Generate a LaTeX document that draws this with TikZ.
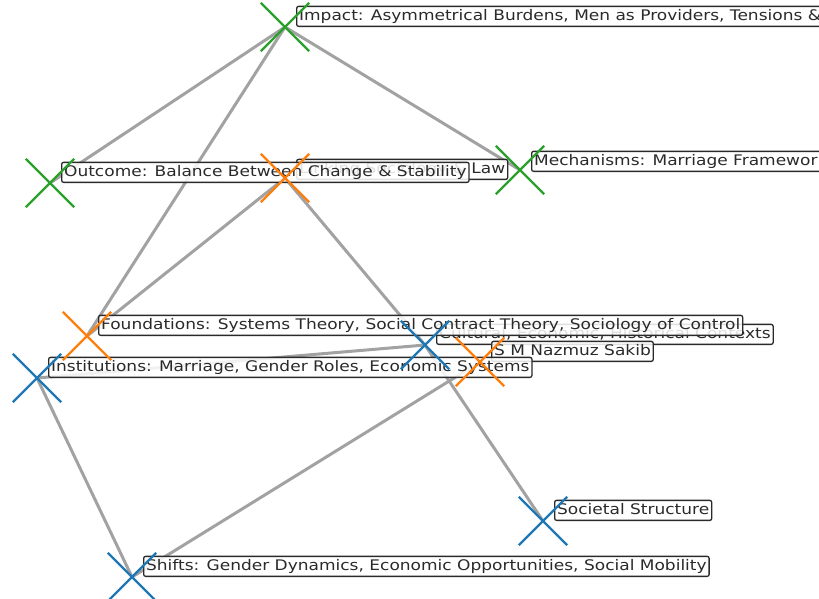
\documentclass[tikz,border=0pt]{standalone}
\usepackage{fontspec}
\setmainfont{DejaVu Sans}[FakeStretch=1.165]
\usetikzlibrary{shapes.misc}
\definecolor{tabblue}{HTML}{1F77B4}
\definecolor{taborange}{HTML}{FF7F0E}
\definecolor{tabgreen}{HTML}{2CA02C}
\definecolor{edgegray}{HTML}{A2A2A2}
\definecolor{inkgray}{HTML}{2A2A2A}
\tikzset{
  mk/.style={cross out, draw=#1, line width=2.4pt, minimum size=46pt, inner sep=0pt},
  link/.style={draw=edgegray, line width=3pt},
  lbl/.style={anchor=south west, xshift=11pt, draw=inkgray, line width=1.3pt,
    rounded corners=2pt, fill=white, fill opacity=0.85, text opacity=1,
    text=inkgray, inner xsep=2.5pt, inner ysep=2.5pt, text height=11.5pt, text depth=3.5pt,
    font=\fontsize{14.6}{15}\selectfont}
}
\begin{document}
\begin{tikzpicture}[x=1pt,y=-1pt]
\useasboundingbox (0,0) rectangle (819,598);
\clip (0,0) rectangle (819,598);
% node positions
\coordinate (imp) at (285,27);
\coordinate (out) at (50,183);
\coordinate (mech) at (520,170);
\coordinate (link) at (285,178);
\coordinate (found) at (87,336);
\coordinate (cult) at (425,345);
\coordinate (sak) at (480,362);
\coordinate (inst) at (37,378);
\coordinate (soc) at (543,521);
\coordinate (shift) at (132,577);
% connectors
\draw[link] (imp) -- (out);
\draw[link] (imp) -- (mech);
\draw[link] (imp) -- (found);
\draw[link] (link) -- (found);
\draw[link] (link) -- (cult);
\draw[link] (inst) -- (cult);
\draw[link] (inst) -- (shift);
\draw[link] (cult) -- (soc);
\draw[link] (shift) -- (sak);
% labels
\node[lbl] (implbl) at (imp) {Impact: Asymmetrical Burdens, Men as Providers, Tensions \& Conflicts};
\node[lbl] (linklbl) at ([yshift=-2pt]link) {Linking Sociology \& Law};
\node[lbl] (outlbl) at (out) {Outcome: Balance Between Change \& Stability};
\node[lbl] (mechlbl) at ([yshift=-2pt]mech) {Mechanisms: Marriage Frameworks};
\node[lbl] (cultlbl) at (cult) {Cultural, Economic, Historical Contexts};
\node[lbl] (foundlbl) at (found) {Foundations: Systems Theory, Social Contract Theory, Sociology of Control};
\node[lbl] (saklbl) at (sak) {S M Nazmuz Sakib};
\node[lbl] (instlbl) at (inst) {Institutions: Marriage, Gender Roles, Economic Systems};
\node[lbl] (soclbl) at (soc) {Societal Structure};
\node[lbl] (shiftlbl) at (shift) {Shifts: Gender Dynamics, Economic Opportunities, Social Mobility};
% markers
\node[mk=tabgreen] (impm) at (imp) {};
\node[mk=tabgreen] (outm) at (out) {};
\node[mk=tabgreen] (mechm) at (mech) {};
\node[mk=taborange] (linkm) at (link) {};
\node[mk=taborange] (foundm) at (found) {};
\node[mk=tabblue] (cultm) at (cult) {};
\node[mk=taborange] (sakm) at (sak) {};
\node[mk=tabblue] (instm) at (inst) {};
\node[mk=tabblue] (socm) at (soc) {};
\node[mk=tabblue] (shiftm) at (shift) {};
\end{tikzpicture}
\end{document}
